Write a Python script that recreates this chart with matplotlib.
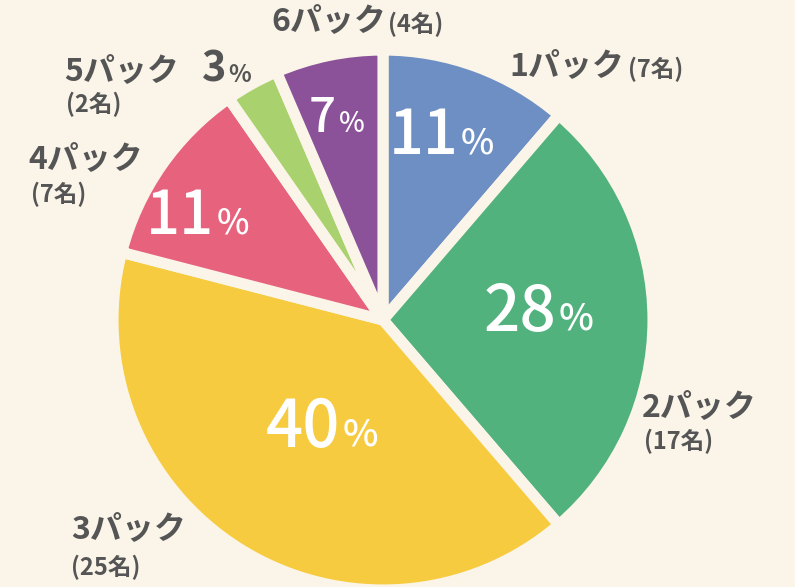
import matplotlib.pyplot as plt

plt.rcParams['font.family'] = ['Noto Sans CJK JP', 'DejaVu Sans']

# Datos del gráfico
packs = ["1パック", "2パック", "3パック", "4パック", "5パック", "6パック"]
people = [7, 17, 25, 7, 2, 4]
pct_labels = ["11", "28", "40", "11", "3", "7"]
count_labels = ["(7名)", "(17名)", "(25名)", "(7名)", "(2名)", "(4名)"]
colors = ["#6E8FC4", "#52B27D", "#F7CB40", "#E6627D", "#A9D16D", "#8B5299"]

W, H = 795, 587
bg = "#FAF5E8"
ink = "#555555"

fig = plt.figure(figsize=(W / 100, H / 100), dpi=100, facecolor=bg)
ax = fig.add_axes([0, 0, 1, 1])

# Pastel con separaciones de color crema
ax.pie(people, colors=colors, startangle=90, counterclock=False,
       center=(383, H - 320), radius=270, frame=False,
       wedgeprops=dict(edgecolor=bg, linewidth=8, joinstyle="round"))

ax.set_xlim(0, W)
ax.set_ylim(0, H)
ax.set_aspect("equal")
ax.axis("off")

# Porcentajes dentro de cada sector (x, y en píxeles desde arriba, tamaño)
pct_pos = [(458, 137, 44), (556, 312, 46), (340, 428, 47), (214, 217, 43), None, (336, 118, 34)]
for txt, pos in zip(pct_labels, pct_pos):
    if pos is None:
        continue
    x, y, fs = pos
    ax.text(x, H - y, txt, color="white", fontsize=fs, fontweight="medium",
            ha="right", va="center")
    ax.text(x + 3, H - y - 6, "%", color="white", fontsize=fs * 0.58,
            fontweight="medium", ha="left", va="center")

# Etiquetas exteriores
big, small = 23, 17
kw = dict(color=ink, fontweight="bold", ha="left", va="center")
# 6パック (4名) en una línea
ax.text(271, H - 22, packs[5], fontsize=big, **kw)
ax.text(388, H - 24, count_labels[5], fontsize=small, **kw)
# 1パック (7名) en una línea
ax.text(509, H - 67, packs[0], fontsize=big, **kw)
ax.text(628, H - 69, count_labels[0], fontsize=small, **kw)
# 2パック
ax.text(642, H - 408, packs[1], fontsize=big, **kw)
ax.text(644, H - 441, count_labels[1], fontsize=small, **kw)
# 3パック
ax.text(71, H - 530, packs[2], fontsize=big, **kw)
ax.text(71, H - 567, count_labels[2], fontsize=small, **kw)
# 4パック
ax.text(28, H - 160, packs[3], fontsize=big, **kw)
ax.text(31, H - 194, count_labels[3], fontsize=small, **kw)
# 5パック 3%
ax.text(64, H - 72, packs[4], fontsize=big, **kw)
ax.text(226, H - 70, pct_labels[4], fontsize=30, color=ink, fontweight="bold",
        ha="right", va="center")
ax.text(228, H - 75, "%", fontsize=17, **kw)
ax.text(66, H - 104, count_labels[4], fontsize=small, **kw)

fig.savefig("out.png", dpi=100, facecolor=bg)
